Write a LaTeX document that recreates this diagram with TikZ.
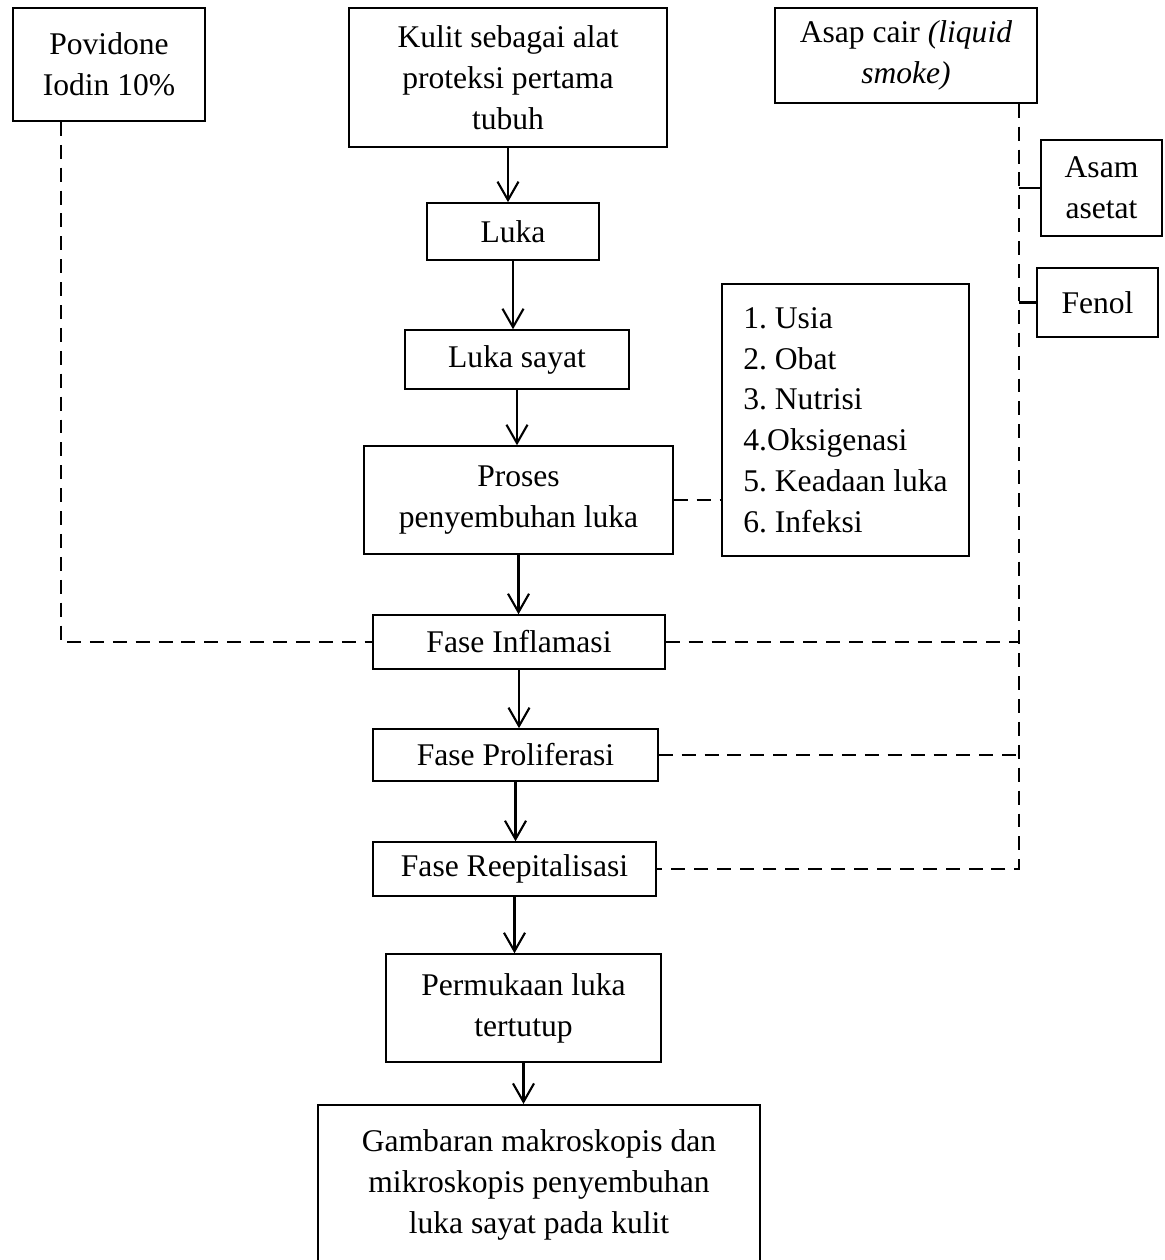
\documentclass[tikz,border=0pt]{standalone}
\usepackage{fontspec}
\setmainfont{Liberation Serif}
\usetikzlibrary{arrows.meta,calc}
\frenchspacing

\begin{document}
\begin{tikzpicture}[
  x=0.38pt, y=-0.38pt,
  font=\fontsize{12}{15.5}\selectfont,
  >={Straight Barb[length=7pt,width=8pt]},
  box/.style={draw, line width=0.6pt, align=center, inner sep=0pt},
  flow/.style={->, line width=0.8pt},
  link/.style={line width=0.8pt, dash pattern=on 5.3pt off 3.4pt},
  tick/.style={line width=0.8pt},
]
\useasboundingbox (0,0) rectangle (1165,1260);
% inputs on top
\node[box, minimum width=73pt, minimum height=43pt] (pov) at (109,64.5)
  {Povidone\\Iodin 10\%};
\node[box, minimum width=120.8pt, minimum height=52.8pt] (kulit) at (508,77.5)
  {Kulit sebagai alat\\proteksi pertama\\tubuh};
\node[box, minimum width=99.6pt, minimum height=36.1pt] (asap) at (906,55.5)
  {Asap cair \textit{(liquid}\\\textit{smoke)}};
\node[box, minimum width=46pt, minimum height=36.5pt] (asam) at (1101.5,188)
  {Asam\\asetat};
\node[box, minimum width=46pt, minimum height=26.2pt] (fenol) at (1097.5,302.5)
  {Fenol};
% main chain
\node[box, minimum width=65.4pt, minimum height=21.7pt] (luka) at (513,231.5) {Luka};
\node[box, minimum width=85.1pt, minimum height=22.4pt] (sayat) at (517,359.5) {Luka sayat};
\node[box, minimum width=117.4pt, minimum height=41pt] (proses) at (518.5,500)
  {Proses\\penyembuhan luka};
\node[box, align=left, minimum width=93.9pt, minimum height=103.4pt] (faktor) at (845.5,420)
  {1. Usia\\2. Obat\\3. Nutrisi\\4.Oksigenasi\\5. Keadaan luka\\6. Infeksi};
\node[box, minimum width=111pt, minimum height=20.5pt] (inflamasi) at (519,642) {Fase Inflamasi};
\node[box, minimum width=108.3pt, minimum height=19.8pt] (proliferasi) at (515.5,755) {Fase Proliferasi};
\node[box, minimum width=107.5pt, minimum height=20.5pt] (reepitel) at (514.5,869) {Fase Reepitalisasi};
\node[box, minimum width=104.5pt, minimum height=41pt] (permukaan) at (523.5,1008)
  {Permukaan luka\\tertutup};
\node[box, minimum width=168pt, minimum height=61pt] (gambaran) at (539,1185)
  {Gambaran makroskopis dan\\mikroskopis penyembuhan\\luka sayat pada kulit};
% arrows down the chain
\foreach \a/\b in {kulit/luka, luka/sayat, sayat/proses, proses/inflamasi,
                   inflamasi/proliferasi, proliferasi/reepitel, reepitel/permukaan,
                   permukaan/gambaran}
  \draw[flow] (\a.south) -- (\a.south |- \b.north);
% dashed links
\draw[link] ($(pov.south west)!0.25!(pov.south east)$) |- (inflamasi.west);
\draw[link] (proses.east) -- (proses.east -| faktor.west);
\coordinate (drop) at ($(asap.south west)!0.927!(asap.south east)$);
\draw[link] (drop) -- (drop |- reepitel.east) -- (reepitel.east);
\draw[link] (inflamasi.east) -- (inflamasi.east -| drop);
\draw[link] (proliferasi.east) -- (proliferasi.east -| drop);
\draw[tick] (asam.west -| drop) -- (asam.west);
\draw[tick] (fenol.west -| drop) -- (fenol.west);
\end{tikzpicture}
\end{document}
